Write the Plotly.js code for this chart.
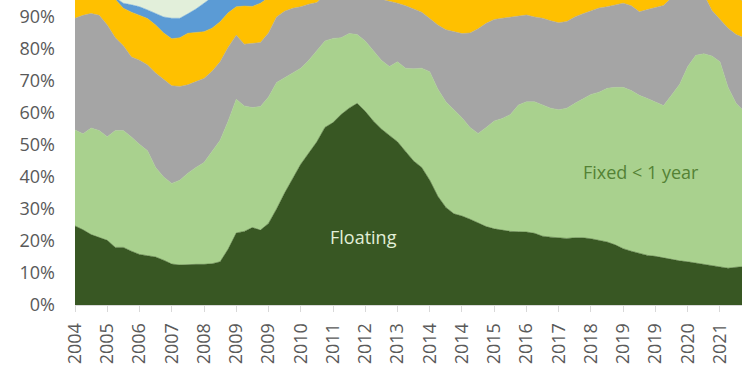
<!DOCTYPE html>
<html>
<head>
<meta charset="utf-8">
<script src="https://cdn.plot.ly/plotly-3.0.1.min.js"></script>
<style>html,body{margin:0;padding:0;background:#fff;}#chart{width:750px;height:375px;}</style>
</head>
<body>
<div id="chart"></div>
<script>
// x positions: sample index (roughly quarterly), tick label every 4 samples
const tickLabels = ["2004","2005","2006","2007","2008","2009","2009","2010","2011","2012","2013","2014","2014","2015","2016","2017","2018","2019","2019","2020","2021"];

const floating = [24.7,23.5,22,21.2,20.2,18,18,16.8,15.8,15.4,15,14,12.8,12.5,12.7,12.7,12.7,12.9,13.5,17.5,22.5,23,24.2,23.4,25.5,30,35,39.5,44,47.5,51,55.5,57,59.5,61.5,63,60.5,57.5,55,53,51,48,45,43,39,34,30.5,28.5,27.8,26.8,25.6,24.5,23.8,23.3,23,22.9,22.8,22.4,21.5,21.2,21,20.8,21,21,20.7,20.2,19.7,18.8,17.6,16.8,16.2,15.5,15.2,14.7,14.3,13.8,13.5,13.1,12.5,12.2,11.8,11.5,11.8,12];

const fixedLt1 = [30,30,33.3,33.3,32.4,36.5,36.5,35.7,34.4,32.8,28,26,25.2,26.5,28.5,30.3,31.8,35.1,38,40,41.8,39.2,37.5,38.6,39.5,39.5,36,33,30,29,28.5,27,26.3,24,23.3,21.5,22,22,21.5,21.5,25,26,28.8,31,33.9,33.5,33,32.5,30.7,28.7,28,31,33.7,35,36.5,39.6,40.7,41.1,41,40.3,40,40.7,42,43.5,45.1,46.3,48,49.2,50.4,50.2,49.3,49,48.3,47.6,51.3,55.2,61,64.9,66,65.6,64.2,56.5,51.2,48.5];

const fixed1to3 = [34.9,37,35.8,36,34.9,29,26.5,25,26.3,26.8,29.5,30.5,30.5,29.3,27.6,26.8,26.3,25,24.5,23,20,19.3,20.1,20,20,20.5,20.8,20.2,19.2,17.5,15,14.5,13.7,13.5,12.2,12.5,14.5,17.5,19,20.5,18.3,19.5,18.7,17.5,16.6,20,22.5,24.5,26.3,29.5,32.7,32.5,31.7,31.3,30.4,27.9,27.1,26.5,27.1,27.3,27.2,27.1,27,26.5,26.2,26.3,25.5,25.8,26.3,26.5,26.1,27.8,29.5,31.3,30.4,28,22.5,19,18.5,14.2,13.3,18.5,21.5,23];

const fixed3to5 = [7.4,6.5,5.9,6.5,9.5,12,11.7,14,14,14.5,15,14.5,14.7,15.2,16.1,15.4,14.6,13.5,12.5,10.8,8.9,11.9,11.5,12.3,11,7,5.2,4.3,3.8,3,2.5,1,1,1,1,1,1,1,1.5,2,2.7,3.5,4.5,5.5,7.5,9.5,11,11.5,12.2,12,10.7,9,7.8,7.4,7.1,6.6,6.4,7,7.4,8.2,8.8,8.4,7,6,5,4.2,3.8,3.2,2.7,3.5,5.4,4.7,4,3.4,1.5,1,1,1,1,5,7.7,10.5,12,11];

const fixed5to10 = [0,0,0,0,0,0.5,1.6,2.3,2.7,2.7,3.7,5,6.4,6.1,6.1,7.3,8.9,9.5,9.5,6.7,4.8,4.6,4.7,3.7,2,1,1,1,1,1,1,1,1,1,1,1,1,1,1,1,1,1,1,1,1,1,1,1,1,1,1,1,1,1,1,1,1,1,1,1,1,1,1,1,1,1,1,1,1,1,1,1,1,1,1,1,1,1,1,1,1,1,1.5,2.5];

const fixedGt10 = [3,3,3,3,3,4,5.7,6.2,6.8,7.8,8.8,10,10.4,10.4,9,7.5,5.7,4,2,2,2,2,2,2,2,2,2,2,2,2,2,1,1,1,1,1,1,1,2,2,2,2,2,2,2,2,2,2,2,2,2,2,2,2,2,2,2,2,2,2,2,2,2,2,2,2,2,2,2,2,2,2,2,2,1.5,1,1,1,1,2,2,2,2,3];

const seriesNames = ["Floating","Fixed < 1 year","Fixed 1-3 years","Fixed 3-5 years","Fixed 5-10 years","Fixed > 10 years"];
const seriesColors = ["#385723","#A9D18E","#A5A5A5","#FFC000","#5B9BD5","#E2EFDA"];
const seriesData = [floating, fixedLt1, fixed1to3, fixed3to5, fixed5to10, fixedGt10];

const xIdx = floating.map((_, i) => i);
const tickVals = tickLabels.map((_, i) => i * 4);

const traces = seriesData.map((d, i) => ({
  type: 'scatter',
  mode: 'lines',
  x: xIdx,
  y: d,
  name: seriesNames[i],
  stackgroup: 'one',
  fillcolor: seriesColors[i],
  line: {color: seriesColors[i], width: 0.5},
  hoverinfo: 'skip'
}));

const font = {family: 'Open Sans, sans-serif', size: 18, color: '#595959'};

const layout = {
  width: 750, height: 375,
  margin: {l: 75, r: 8, t: 0, b: 70},
  paper_bgcolor: '#ffffff',
  plot_bgcolor: '#ffffff',
  showlegend: false,
  font: font,
  xaxis: {
    range: [0, 82.73],
    tickmode: 'array',
    tickvals: tickVals,
    ticktext: tickLabels,
    tickangle: -90,
    ticks: 'outside',
    ticklen: 6,
    tickcolor: '#D9D9D9',
    showline: true,
    linecolor: '#D9D9D9',
    linewidth: 1,
    showgrid: false,
    zeroline: false,
    tickfont: font,
    ticklabelstandoff: 4
  },
  yaxis: {
    range: [0, 95.3],
    dtick: 10,
    tick0: 0,
    ticksuffix: '%',
    showgrid: false,
    zeroline: false,
    showline: false,
    ticks: '',
    tickfont: font,
    ticklabelstandoff: 19
  },
  annotations: [
    {x: 35.8, y: 21.2, xref: 'x', yref: 'y', text: 'Floating', showarrow: false,
     font: {family: 'Open Sans, sans-serif', size: 18, color: '#E2F0D9'}},
    {x: 70.2, y: 41.5, xref: 'x', yref: 'y', text: 'Fixed &lt; 1 year', showarrow: false,
     font: {family: 'Open Sans, sans-serif', size: 18, color: '#548235'}}
  ]
};

Plotly.newPlot('chart', traces, layout, {staticPlot: true, displayModeBar: false});
</script>
</body>
</html>
